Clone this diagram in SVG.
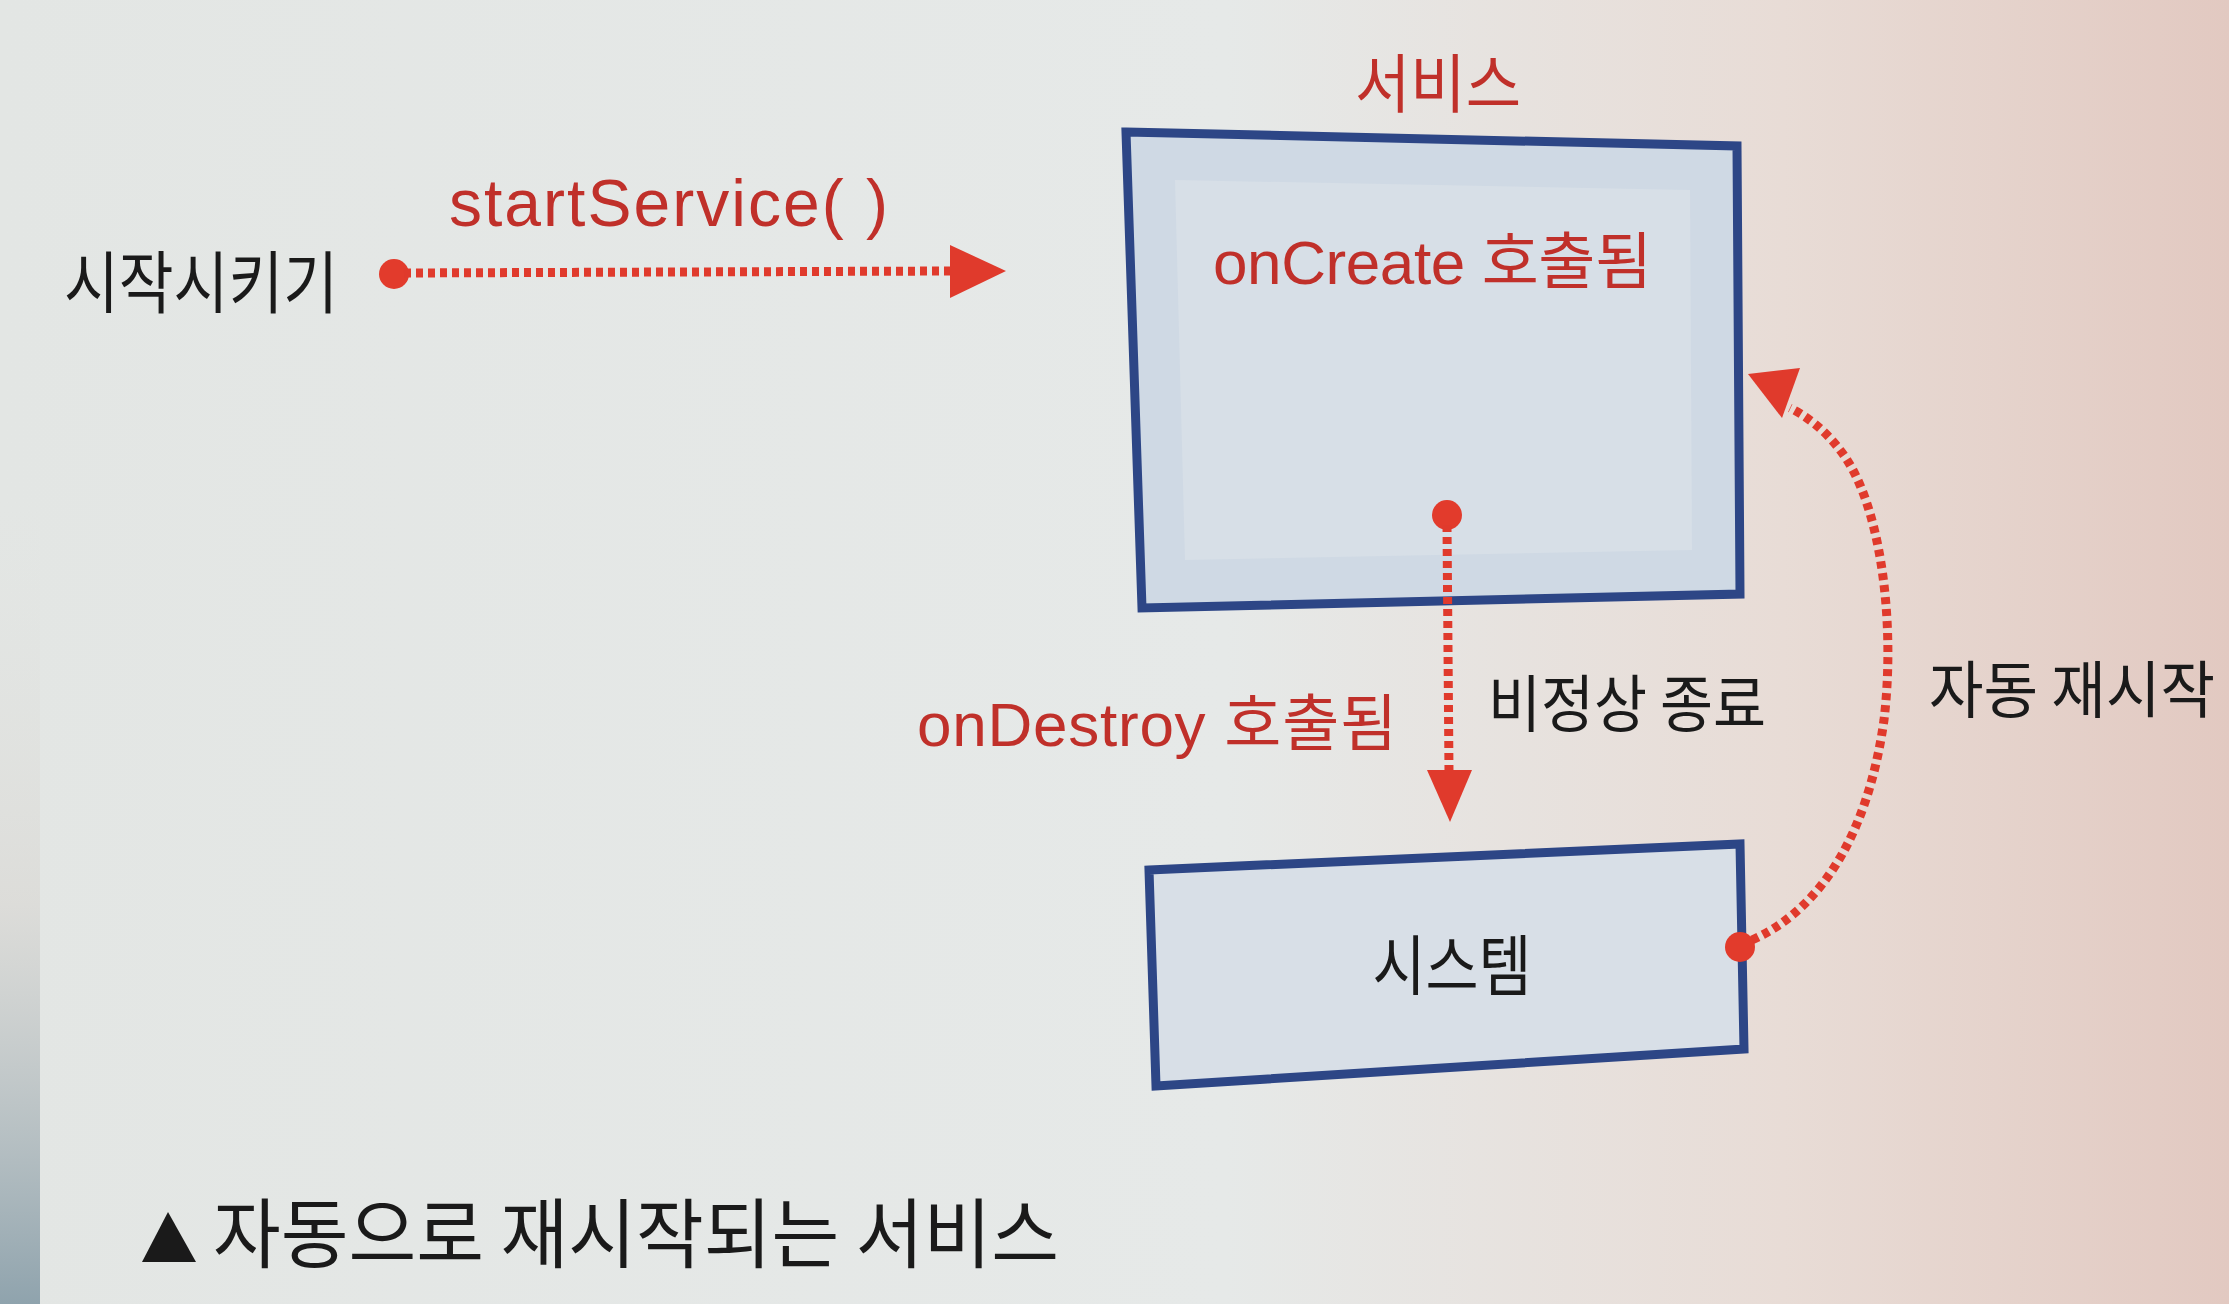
<svg xmlns="http://www.w3.org/2000/svg" width="2229" height="1304" viewBox="0 0 2229 1304">
<defs>
<linearGradient id="bg" x1="0" y1="0" x2="1" y2="0">
<stop offset="0" stop-color="#e3e6e4"/>
<stop offset="0.55" stop-color="#e6e9e8"/>
<stop offset="0.8" stop-color="#e8dcd6"/>
<stop offset="1" stop-color="#e2c9c1"/>
</linearGradient>
<linearGradient id="edge" x1="0" y1="0" x2="0" y2="1">
<stop offset="0" stop-color="#e2e3e0" stop-opacity="0"/>
<stop offset="0.5" stop-color="#d8d6d2" stop-opacity="0.6"/>
<stop offset="1" stop-color="#8fa3ad"/>
</linearGradient>
<style>
.red{font-family:"Liberation Sans","Noto Sans CJK KR",sans-serif;fill:#c0302a;}
.blk{font-family:"Noto Sans CJK KR","Liberation Sans",sans-serif;fill:#1a1a1a;}
.box{stroke:#2d4686;stroke-width:9;stroke-linejoin:miter;}
.dot{fill:#e23b2c;}
.dash{fill:none;stroke:#e03a2c;stroke-width:9;stroke-dasharray:7 5;}
</style>
</defs>
<rect x="0" y="0" width="2229" height="1304" fill="url(#bg)"/>
<rect x="0" y="500" width="40" height="804" fill="url(#edge)"/>

<g id="node-service">
<polygon class="box" points="1126,132 1737,146 1740,594 1142,608" fill="#cfd9e4"/>
<polygon points="1175,180 1690,190 1692,550 1185,560" fill="#d7dfe7"/>
<text class="red" x="1438" y="107" font-size="64" text-anchor="middle" textLength="166" lengthAdjust="spacingAndGlyphs" font-family="Noto Sans CJK KR">서비스</text>
<text class="red" x="1213" y="284" font-size="62" textLength="439">onCreate 호출됨</text>
</g>

<g id="node-system">
<polygon class="box" points="1149,870 1740,844 1744,1049 1156,1086" fill="#d8dfe7"/>
<text class="blk" x="1452" y="990" font-size="66" text-anchor="middle" textLength="159" lengthAdjust="spacingAndGlyphs">시스템</text>
</g>

<g id="node-starter">
<text class="blk" x="64" y="308" font-size="68" textLength="274" lengthAdjust="spacingAndGlyphs">시작시키기</text>
</g>

<g id="connectors">
<circle class="dot" cx="394" cy="274" r="15"/>
<line class="dash" x1="404" y1="273" x2="950" y2="271"/>
<polygon points="950,245 1006,271 950,298" fill="#e03a2c"/>

<circle class="dot" cx="1447" cy="515" r="15"/>
<line class="dash" x1="1447" y1="525" x2="1449" y2="772"/>
<polygon points="1427,770 1472,770 1450,822" fill="#e03a2c"/>

<circle class="dot" cx="1740" cy="947" r="15"/>
<path class="dash" d="M1752,940 C1830,905 1870,820 1884,720 C1896,620 1880,500 1840,450 C1825,430 1805,415 1790,408"/>
<polygon points="1748,374 1800,368 1782,418" fill="#e03a2c"/>
</g>

<g id="labels">
<text class="red" x="449" y="226" font-size="66" textLength="439">startService( )</text>
<text class="red" x="917" y="746" font-size="62" textLength="480">onDestroy 호출됨</text>
<text class="blk" x="1488" y="727" font-size="62" textLength="278" lengthAdjust="spacingAndGlyphs">비정상 종료</text>
<text class="blk" x="1929" y="713" font-size="62" textLength="286" lengthAdjust="spacingAndGlyphs">자동 재시작</text>
</g>

<g id="caption">
<polygon points="168,1212 196,1262 142,1262" fill="#1a1a1a"/>
<text class="blk" x="213" y="1262" font-size="76" textLength="846" lengthAdjust="spacingAndGlyphs">자동으로 재시작되는 서비스</text>
</g>
</svg>
